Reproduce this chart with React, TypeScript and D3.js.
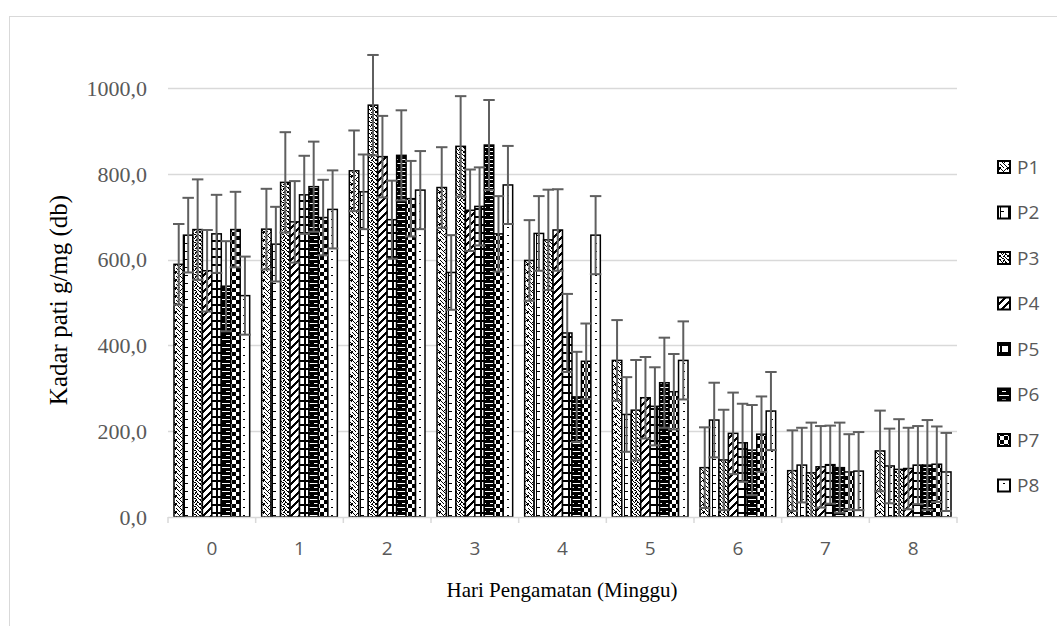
import React, { useEffect, useRef } from "react";
import * as d3 from "d3";

// data
const categories = ["0", "1", "2", "3", "4", "5", "6", "7", "8"];
const seriesNames = ["P1", "P2", "P3", "P4", "P5", "P6", "P7", "P8"];

const p1 = [589, 671, 807, 768, 598, 365, 115, 108, 154];
const p2 = [657, 636, 758, 570, 661, 239, 226, 121, 119];
const p3 = [670, 780, 960, 864, 646, 249, 133, 103, 111];
const p4 = [574, 688, 840, 715, 669, 278, 195, 117, 113];
const p5 = [660, 751, 693, 724, 429, 258, 173, 122, 121];
const p6 = [538, 770, 843, 867, 280, 313, 156, 115, 121];
const p7 = [670, 698, 742, 660, 363, 292, 193, 105, 123];
const p8 = [516, 717, 762, 774, 657, 365, 247, 107, 105];
const seriesValues = [p1, p2, p3, p4, p5, p6, p7, p8];

// standard deviation error bar per series
const seriesErrors = [94, 87, 117, 95, 91, 105, 88, 91];

const yTicks = [0, 200, 400, 600, 800, 1000];

// 8x8 fill bitmaps, one per series
const patterns: string[][] = [
  ["10000011", "01000101", "00101000", "00010000", "10001000", "01000100", "00100010", "10010001"],
  ["10000000", "10000000", "10000000", "11110000", "10000000", "10000000", "10000000", "10000000"],
  ["10011001", "01000100", "00110010", "10001001", "10011000", "01010100", "00100110", "10001001"],
  ["00000111", "00001110", "00011100", "00111000", "01110000", "11100000", "11000001", "10000011"],
  ["11111111", "11111111", "11000000", "11000000", "11000000", "11000000", "11000000", "11000000"],
  ["11111111", "11111111", "11111111", "00000000", "11111111", "11111111", "11111111", "11000011"],
  ["11110000", "11110000", "11110000", "11110000", "00001111", "00001111", "00001111", "00001111"],
  ["00000000", "00000000", "00000000", "00011000", "00000000", "00000000", "00000000", "00000000"],
];

const W = 1057;
const H = 626;

const App = () => {
  const ref = useRef<SVGSVGElement | null>(null);

  useEffect(() => {
    document.body.style.margin = "0";
    const svg = d3.select(ref.current);
    svg.selectAll("*").remove();

    const serif = "'Liberation Serif', 'Times New Roman', serif";
    const sans = "'Open Sans', 'Liberation Sans', sans-serif";

    // chart border
    svg.append("rect")
      .attr("x", 9.5).attr("y", 16.5)
      .attr("width", W + 10).attr("height", H + 10)
      .attr("fill", "white").attr("stroke", "#d9d9d9");

    const defs = svg.append("defs");
    patterns.forEach((rows, i) => {
      const pat = defs.append("pattern")
        .attr("id", "pat" + i)
        .attr("patternUnits", "userSpaceOnUse")
        .attr("width", 8).attr("height", 8);
      pat.append("rect").attr("width", 8).attr("height", 8).attr("fill", "white");
      rows.forEach((row, r) => {
        row.split("").forEach((c, col) => {
          if (c === "1") {
            pat.append("rect").attr("x", col).attr("y", r)
              .attr("width", 1).attr("height", 1).attr("fill", "black")
              .attr("shape-rendering", "crispEdges");
          }
        });
      });
    });

    const left = 168, right = 957, top = 88, bottom = 517;

    const x = d3.scaleBand().domain(categories).range([left, right]).padding(0);
    const inner = d3.scaleBand()
      .domain(seriesNames)
      .range([6, x.bandwidth() - 6])
      .padding(0);
    const y = d3.scaleLinear().domain([0, 1000]).range([bottom, top]);

    // gridlines
    svg.append("g").selectAll("line")
      .data(yTicks.filter(t => t > 0))
      .enter().append("line")
      .attr("x1", left).attr("x2", right)
      .attr("y1", d => Math.round(y(d)) + 0.5).attr("y2", d => Math.round(y(d)) + 0.5)
      .attr("stroke", "#d9d9d9").attr("stroke-width", 1.5);

    // y labels
    svg.append("g").selectAll("text")
      .data(yTicks)
      .enter().append("text")
      .attr("x", 147).attr("y", d => y(d))
      .attr("dy", "0.35em")
      .attr("text-anchor", "end")
      .attr("font-family", serif).attr("font-size", 22)
      .attr("fill", "#595959")
      .text(d => d3.format(".1f")(d).replace(".", ","));

    // bars
    seriesValues.forEach((vals, si) => {
      svg.append("g").selectAll("rect")
        .data(vals)
        .enter().append("rect")
        .attr("x", (d, ci) => (x(categories[ci]) || 0) + (inner(seriesNames[si]) || 0))
        .attr("y", d => y(d))
        .attr("width", inner.bandwidth())
        .attr("height", d => bottom - y(d))
        .attr("fill", `url(#pat${si})`)
        .attr("stroke", "black").attr("stroke-width", 1.5);
    });

    // error bars (clipped at the axis like Excel does)
    seriesValues.forEach((vals, si) => {
      const err = seriesErrors[si];
      const g = svg.append("g").attr("stroke", "#5f5f5f").attr("stroke-width", 2);
      vals.forEach((v, ci) => {
        const cx = (x(categories[ci]) || 0) + (inner(seriesNames[si]) || 0) + inner.bandwidth() / 2;
        const hw = inner.bandwidth() / 2 + 1;
        const lo = Math.max(0, v - err);
        g.append("line").attr("x1", cx).attr("x2", cx).attr("y1", y(lo)).attr("y2", y(v + err));
        g.append("line").attr("x1", cx - hw).attr("x2", cx + hw).attr("y1", y(v + err)).attr("y2", y(v + err));
        if (v - err > 0) {
          g.append("line").attr("x1", cx - hw).attr("x2", cx + hw).attr("y1", y(lo)).attr("y2", y(lo));
        }
      });
    });

    // x axis
    svg.append("line")
      .attr("x1", left).attr("x2", right)
      .attr("y1", bottom + 0.5).attr("y2", bottom + 0.5)
      .attr("stroke", "#d9d9d9").attr("stroke-width", 1.5);
    const bounds = categories.map(c => x(c) || 0).concat([right]);
    svg.append("g").selectAll("line")
      .data(bounds)
      .enter().append("line")
      .attr("x1", d => d).attr("x2", d => d)
      .attr("y1", bottom).attr("y2", bottom + 6)
      .attr("stroke", "#d9d9d9").attr("stroke-width", 1.5);
    svg.append("g").selectAll("text")
      .data(categories)
      .enter().append("text")
      .attr("x", d => (x(d) || 0) + x.bandwidth() / 2)
      .attr("y", 548).attr("dy", "0.35em")
      .attr("text-anchor", "middle")
      .attr("font-family", sans).attr("font-size", 19)
      .attr("fill", "#595959")
      .text(d => d);

    // titles
    svg.append("text")
      .attr("x", 562).attr("y", 590).attr("dy", "0.35em")
      .attr("text-anchor", "middle")
      .attr("font-family", serif).attr("font-size", 21)
      .attr("fill", "black")
      .text("Hari Pengamatan (Minggu)");
    svg.append("text")
      .attr("transform", "translate(58,300) rotate(-90)")
      .attr("dy", "0.35em")
      .attr("text-anchor", "middle")
      .attr("font-family", serif).attr("font-size", 25)
      .attr("fill", "black")
      .text("Kadar pati g/mg (db)");

    // legend
    const leg = svg.append("g");
    seriesNames.forEach((name, i) => {
      const ly = 167 + i * 45.5;
      leg.append("rect")
        .attr("x", 998).attr("y", ly - 6)
        .attr("width", 12).attr("height", 12)
        .attr("fill", `url(#pat${i})`)
        .attr("stroke", "black").attr("stroke-width", 2);
      leg.append("text")
        .attr("x", 1017).attr("y", ly).attr("dy", "0.35em")
        .attr("font-family", sans).attr("font-size", 19)
        .attr("fill", "#595959")
        .text(name);
    });
  }, []);

  return <svg ref={ref} width={W} height={H} style={{ display: "block" }} />;
};

export default App;
